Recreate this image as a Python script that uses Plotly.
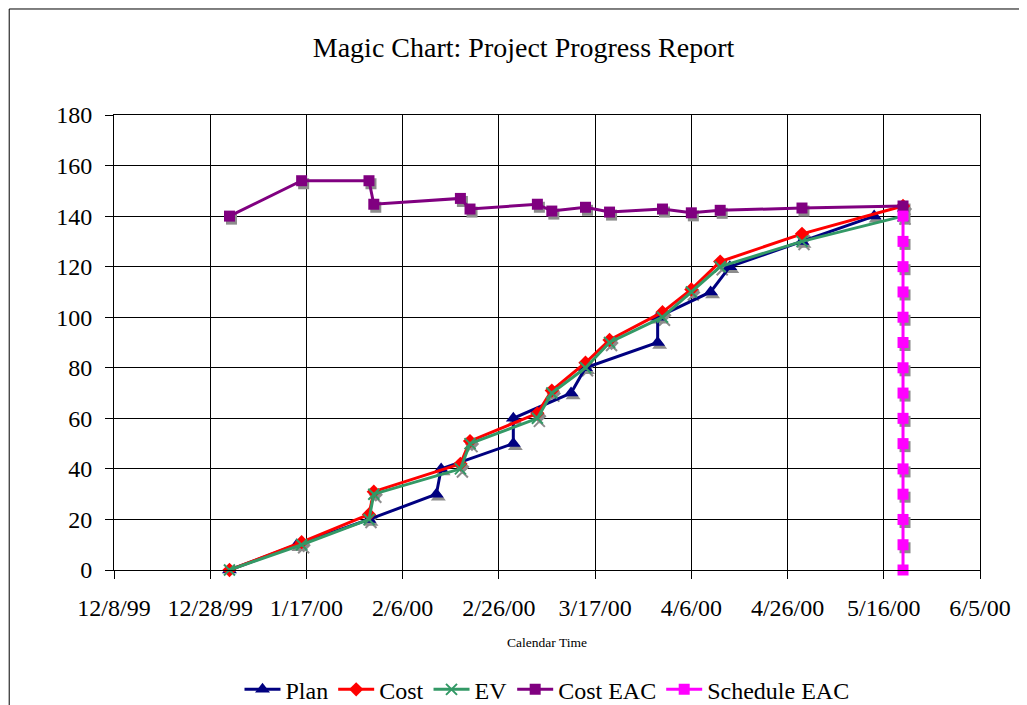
import plotly.graph_objects as go

# Plan baseline
plan_dates = ['2000-01-01', '2000-01-15', '2000-01-30', '2000-02-13', '2000-02-14',
              '2000-02-29', '2000-02-29', '2000-03-12', '2000-03-15', '2000-03-30',
              '2000-03-30', '2000-04-10', '2000-04-14', '2000-04-29', '2000-05-14']
plan_vals = [0, 10, 20, 30, 40, 50, 60, 70, 80, 90, 100, 110, 120, 130, 140]

# Status dates with actuals
status_dates = ['2000-01-01', '2000-01-16', '2000-01-30', '2000-01-31', '2000-02-18',
                '2000-02-20', '2000-03-05', '2000-03-08', '2000-03-15', '2000-03-20',
                '2000-03-31', '2000-04-06', '2000-04-12', '2000-04-29', '2000-05-20']
cost_vals = [0, 11, 22, 31, 42, 51, 62, 71, 82, 91, 102, 111, 122, 133, 144]
ev_vals = [0, 10, 20, 30, 40, 50, 60, 70, 80, 90, 100, 110, 120, 130, 140]
cost_eac_vals = [140, 154, 154, 144.7, 147, 142.8, 144.7, 142, 143.5, 141.6,
                 142.8, 141.3, 142.3, 143.2, 144]

sched_eac_dates = ['2000-05-20'] * 15
sched_eac_vals = [0, 10, 20, 30, 40, 50, 60, 70, 80, 90, 100, 110, 120, 130, 140]

tick_dates = ['1999-12-08', '1999-12-28', '2000-01-17', '2000-02-06', '2000-02-26',
              '2000-03-17', '2000-04-06', '2000-04-26', '2000-05-16', '2000-06-05']
tick_labels = ['12/8/99', '12/28/99', '1/17/00', '2/6/00', '2/26/00',
               '3/17/00', '4/6/00', '4/26/00', '5/16/00', '6/5/00']

FONT = 'Liberation Serif, Times New Roman, serif'
X_RANGE = ['1999-12-08', '2000-06-05']
Y_RANGE = [0, 180]
# same ranges nudged so marker shadows land ~2px right / 3px down
SHADOW_X_RANGE = ['1999-12-07 14:00', '2000-06-04 14:00']
SHADOW_Y_RANGE = [1.2, 181.2]

series = [
    ('Plan', plan_dates, plan_vals, '#000080', 'triangle-up', 13),
    ('Cost', status_dates, cost_vals, '#FF0000', 'diamond', 11),
    ('EV', status_dates, ev_vals, '#339966', 'x-thin', 11),
    ('Cost EAC', status_dates, cost_eac_vals, '#800080', 'square', 11),
    ('Schedule EAC', sched_eac_dates, sched_eac_vals, '#FF00FF', 'square', 11),
]

fig = go.Figure()

# empty trace so the base (gridded) axes are drawn
fig.add_trace(go.Scatter(x=[], y=[], mode='markers', showlegend=False, hoverinfo='skip'))

# marker shadows (gray, behind)
for name, xs, ys, color, sym, size in series:
    if sym == 'x-thin':
        mk = dict(symbol=sym, size=size, line=dict(color='#8c8c8c', width=2))
    else:
        mk = dict(symbol=sym, size=size, color='#8c8c8c')
    fig.add_trace(go.Scatter(x=xs, y=ys, mode='markers', marker=mk, showlegend=False,
                             hoverinfo='skip', cliponaxis=False, xaxis='x2', yaxis='y2'))

for name, xs, ys, color, sym, size in series:
    if sym == 'x-thin':
        mk = dict(symbol=sym, size=size, line=dict(color=color, width=2))
    else:
        mk = dict(symbol=sym, size=size, color=color)
    fig.add_trace(go.Scatter(x=xs, y=ys, name=name, mode='lines+markers',
                             line=dict(color=color, width=3), marker=mk,
                             cliponaxis=False, xaxis='x3', yaxis='y3'))

hidden = dict(showgrid=False, showticklabels=False, zeroline=False, showline=False, ticks='')

fig.update_layout(
    width=1027, height=705,
    margin=dict(l=106, r=55, t=107, b=143, autoexpand=False),
    paper_bgcolor='white', plot_bgcolor='white',
    font=dict(family=FONT, size=24, color='black'),
    title=dict(text='Magic Chart: Project Progress Report', x=0.502, xanchor='center',
               y=0.945, yanchor='middle', font=dict(family=FONT, size=28)),
    legend=dict(orientation='h', x=0.5, xanchor='center',
                yref='container', y=0.033, yanchor='middle', itemwidth=36,
                font=dict(family=FONT, size=24), tracegroupgap=0),
    shapes=[dict(type='rect', xref='paper', yref='paper', x0=-0.121, x1=1.2,
                 y0=-0.6, y1=1.233, line=dict(color='black', width=1))],
    xaxis=dict(type='date', range=X_RANGE,
               tickvals=tick_dates, ticktext=tick_labels,
               showgrid=True, gridcolor='black', gridwidth=1,
               showline=True, linecolor='black', mirror=True,
               ticks='outside', ticklen=8, tickcolor='black', ticklabelstandoff=8,
               title=dict(text='Calendar Time', font=dict(family=FONT, size=13.5), standoff=17)),
    yaxis=dict(range=Y_RANGE, dtick=20, tick0=0,
               showgrid=True, gridcolor='black', gridwidth=1,
               showline=True, linecolor='black', mirror=True, zeroline=False,
               ticks='outside', ticklen=8, tickcolor='black', ticklabelstandoff=8),
    xaxis2=dict(type='date', range=SHADOW_X_RANGE, overlaying='x', **hidden),
    yaxis2=dict(range=SHADOW_Y_RANGE, overlaying='y', **hidden),
    xaxis3=dict(type='date', range=X_RANGE, overlaying='x', **hidden),
    yaxis3=dict(range=Y_RANGE, overlaying='y', **hidden),
)

fig.write_html('out.html')
